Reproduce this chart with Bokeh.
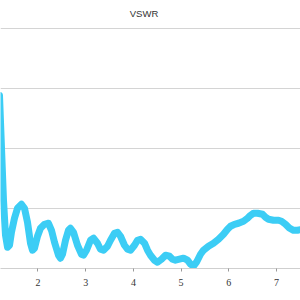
from bokeh.plotting import figure
from bokeh.models import Range1d, Grid, FixedTicker, Label, ColumnDataSource
from bokeh.embed import file_html
from bokeh.resources import INLINE

# Data (frequency vs VSWR)
freq = [1.193, 1.277, 1.319, 1.361, 1.403, 1.444, 1.507, 1.570, 1.654, 1.717,
        1.780, 1.843, 1.885, 1.927, 1.990, 2.052, 2.136, 2.220, 2.283, 2.346,
        2.430, 2.472, 2.514, 2.577, 2.639, 2.681, 2.744, 2.828, 2.912, 2.954,
        3.017, 3.101, 3.164, 3.247, 3.310, 3.373, 3.457, 3.520, 3.604, 3.667,
        3.730, 3.813, 3.876, 3.939, 4.023, 4.086, 4.149, 4.233, 4.296, 4.358,
        4.442, 4.505, 4.589, 4.673, 4.757, 4.820, 4.882, 4.966, 5.050, 5.134,
        5.197, 5.260, 5.323, 5.407, 5.470, 5.574, 5.679, 5.784, 5.889, 5.973,
        6.036, 6.119, 6.203, 6.308, 6.392, 6.455, 6.518, 6.602, 6.706, 6.769,
        6.832, 6.937, 7.042, 7.105, 7.189, 7.273, 7.356, 7.440, 7.545]
vswr = [3.888, 2.138, 1.555, 1.355, 1.388, 1.605, 1.838, 2.005, 2.072, 2.005,
        1.772, 1.422, 1.305, 1.338, 1.538, 1.672, 1.738, 1.755, 1.638, 1.438,
        1.222, 1.172, 1.238, 1.472, 1.638, 1.672, 1.605, 1.388, 1.238, 1.222,
        1.305, 1.472, 1.505, 1.422, 1.322, 1.305, 1.372, 1.472, 1.588, 1.605,
        1.538, 1.388, 1.322, 1.305, 1.388, 1.472, 1.488, 1.422, 1.305, 1.222,
        1.138, 1.105, 1.155, 1.222, 1.205, 1.155, 1.138, 1.155, 1.172, 1.138,
        1.072, 1.038, 1.105, 1.238, 1.305, 1.372, 1.422, 1.488, 1.572, 1.655,
        1.705, 1.738, 1.755, 1.788, 1.838, 1.888, 1.922, 1.922, 1.905, 1.855,
        1.822, 1.805, 1.805, 1.788, 1.738, 1.672, 1.638, 1.638, 1.655]
x_ticks = [2, 3, 4, 5, 6, 7]
y_grid_values = [1, 2, 3, 4, 5]
title_text = "VSWR"

src = ColumnDataSource(data=dict(x=freq, y=vswr))

p = figure(width=300, height=300, output_backend="svg", toolbar_location=None,
           x_range=Range1d(1.214, 7.503), y_range=Range1d(1, 5.472),
           y_axis_location=None,
           min_border_left=0, min_border_right=0, min_border_top=0,
           min_border_bottom=32)
p.outline_line_color = None
p.background_fill_color = "white"
p.border_fill_color = "white"

p.xgrid.visible = False
for g in p.ygrid:
    g.visible = False

grid = Grid(dimension=1, ticker=FixedTicker(ticks=y_grid_values),
            grid_line_color="#d4d4d4", grid_line_width=1)
p.add_layout(grid, "center")

p.line("x", "y", source=src, line_color="#3ccdf5", line_width=7,
       line_join="round", line_cap="round")

ax = p.xaxis[0]
ax.ticker = FixedTicker(ticks=x_ticks)
ax.axis_line_color = "#cfcfcf"
ax.major_tick_line_color = "#999999"
ax.major_tick_in = 0
ax.major_tick_out = 3
ax.minor_tick_line_color = None
ax.major_label_standoff = 7
ax.major_label_text_font = "Liberation Serif"
ax.major_label_text_font_size = "10px"
ax.major_label_text_color = "#333333"

title = Label(x=4.222, y=5.255, text=title_text, text_align="center",
              text_baseline="middle", text_font="Liberation Sans",
              text_font_size="9.5px", text_color="#333333")
p.add_layout(title)

open("out.html", "w").write(file_html(p, INLINE))
